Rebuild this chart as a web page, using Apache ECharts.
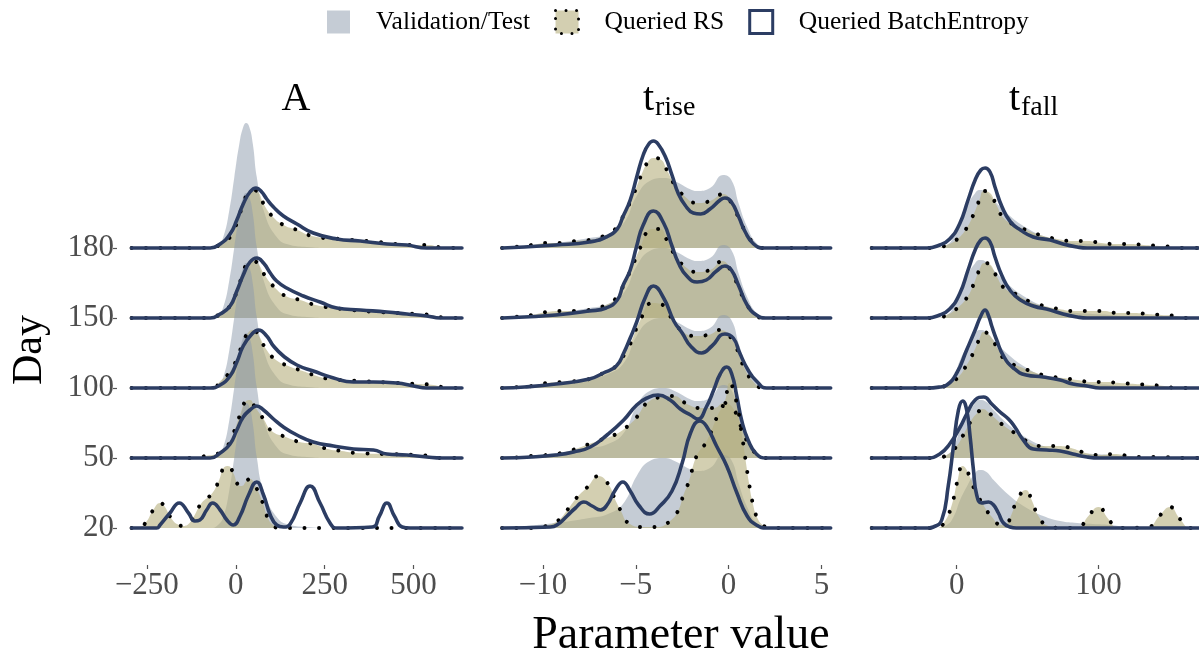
<!DOCTYPE html>
<html>
<head>
<meta charset="utf-8">
<script src="https://cdn.jsdelivr.net/npm/echarts@6/dist/echarts.min.js"></script>
<style>
  html, body { margin: 0; padding: 0; background: #fff; }
  #chart { width: 1199px; height: 660px; }
</style>
</head>
<body>
<div id="chart"></div>
<script>
// Days shown as ridges, bottom to top
const days = ['20', '50', '100', '150', '180'];
// vertical distance between two ridges, in scaled density units
const ridgeStep = 70;

// Tick labels of the three panels
const ticksA = [-250, 0, 250, 500];
const ticksRise = [-10, -5, 0, 5];
const ticksFall = [0, 100];

// ---- Panel A: [parameter value, scaled density] ----
const valA = [[-293,0],[-70,0],[-50,3],[-35,11],[-18,38],[-4,71],[10,104],[21,121],[29,125],[38,121],[48,104],[59,71],[78,38],[115,11],[153,3],[200,1],[260,0],[636,0]];

const rsA_20 = [[-293,0],[-270,1],[-252,6],[-232,18],[-213,25],[-201,22],[-180,9],[-160,3],[-147,2],[-130,5],[-117,12],[-96,25],[-68,34],[-49,46],[-32,61],[-22,62],[-7,55],[7,43],[17,42],[30,47],[40,49],[55,42],[76,25],[90,10],[105,3],[120,0],[636,0]];
const rsA_50 = [[-293,0],[-110,0],[-86,2],[-46,5],[-16,16],[-2,29],[12,43],[29,57],[40,58],[52,52],[78,39],[101,27],[141,21],[179,16],[218,14],[258,9],[298,7],[340,5],[420,4],[504,3],[547,2],[580,0],[636,0]];
const rsA_100 = [[-293,0],[-60,0],[-46,6],[-16,16],[3,29],[17,42],[34,55],[50,58],[62,54],[85,39],[113,28],[148,22],[188,17],[228,12],[265,9],[350,7],[450,5],[514,4],[556,3],[590,0.5],[636,0]];
const rsA_150 = [[-293,0],[-60,0],[-46,5],[-13,13],[3,27],[17,41],[31,54],[46,57],[61,55],[81,43],[108,31],[140,22],[181,18],[225,13],[298,9],[400,6],[505,4],[547,3],[585,0.5],[636,0]];
const rsA_180 = [[-293,0],[-60,0],[-46,4],[-13,12],[3,25],[16,39],[31,53],[45,58],[59,57],[80,43],[102,32],[134,23],[173,18],[214,12],[293,9],[400,6],[500,3],[542,3],[579,0.5],[636,0]];

const beA_20 = [[-293,0],[-222,0],[-213,3],[-185,15],[-159,25],[-133,15],[-115,7],[-101,8],[-82,18],[-65,25],[-44,18],[-25,8],[-7,3],[12,12],[36,33],[59,46],[78,33],[97,13],[115,3],[134,1],[153,4],[181,25],[209,42],[237,25],[265,5],[284,0],[384,1],[404,12],[425,25],[446,12],[468,1],[490,0],[636,0]];
const beA_50 = [[-293,0],[-72,0],[-44,5],[-16,14],[3,28],[21,41],[40,48],[59,52],[78,48],[106,39],[134,31],[172,23],[218,16],[275,12],[331,9],[387,8],[425,4],[481,3],[537,1],[580,0],[636,0]];
const beA_100 = [[-293,0],[-72,0],[-44,3],[-16,12],[3,26],[21,42],[43,53],[64,58],[87,52],[106,42],[134,32],[172,23],[218,17],[275,10],[331,6],[387,6],[453,5],[500,2],[537,0],[636,0]];
const beA_150 = [[-293,0],[-72,0],[-44,4],[-16,12],[3,27],[21,43],[40,56],[59,60],[78,55],[97,45],[115,37],[143,30],[190,22],[237,16],[284,10],[350,8],[425,6],[481,4],[537,2],[575,0],[636,0]];
const beA_180 = [[-293,0],[-72,0],[-44,4],[-16,14],[3,28],[21,44],[40,56],[57,60],[73,56],[87,49],[106,41],[134,32],[172,24],[218,15],[284,9],[350,7],[425,4],[481,3],[537,0],[636,0]];

// ---- Panel t_rise ----
const valRise = [[-12.2,0],[-11,2],[-9.3,5],[-7.5,10],[-6.5,14],[-5.65,25],[-4.95,52],[-4.25,67],[-3.5,70],[-2.8,66],[-2.1,59],[-1.7,57],[-1,60],[-0.3,73],[0.15,68],[0.55,44],[1,21],[1.5,5],[2,0],[5.5,0]];

const rsRise_20 = [[-12.2,0],[-10.3,0],[-9.7,3],[-9.15,8],[-8.65,19],[-8.15,31],[-7.6,41],[-7,52],[-6.45,43],[-6.15,30],[-5.8,17],[-5.4,5],[-4.6,1],[-3.85,1],[-3.15,7],[-2.7,18],[-2.45,32],[-2.15,46],[-1.7,73],[-1.2,86],[-0.6,112],[-0.2,127],[0.05,145],[0.4,128],[0.7,95],[0.9,70],[1.1,45],[1.3,25],[1.55,10],[1.9,2],[2.2,0],[5.5,0]];
const rsRise_50 = [[-12.2,0],[-11,1],[-10.6,2],[-9.8,3],[-9,5],[-8.25,9],[-7.5,14],[-6.9,18],[-6.05,24],[-5.3,34],[-4.9,42],[-4.4,55],[-3.6,61],[-2.95,62],[-2.25,54],[-1.5,50],[-0.8,50],[-0.25,55],[0.3,48],[0.8,25],[1.3,8],[1.9,0],[5.5,0]];
const rsRise_100 = [[-12.2,0],[-11.3,1],[-10.6,2],[-9.8,5],[-9,6],[-7.5,9],[-6.75,15],[-6.05,22],[-5.6,34],[-5.25,46],[-4.8,66],[-4.1,85],[-3.45,82],[-3.05,69],[-2.5,57],[-1.85,52],[-1.1,53],[-0.45,58],[0.2,48],[0.8,22],[1.3,7],[1.9,0],[5.5,0]];
const rsRise_150 = [[-12.2,0],[-11.5,1],[-10.6,3],[-9.8,6],[-9,7],[-8.2,7],[-7.5,8],[-6.6,13],[-6.05,20],[-5.65,33],[-5.3,47],[-5,60],[-4.7,73],[-4.4,86],[-4.05,89],[-3.7,89],[-3.3,77],[-2.9,63],[-2.45,53],[-1.7,46],[-1,48],[-0.35,57],[0.2,44],[0.8,20],[1.3,6],[1.9,0],[5.5,0]];
const rsRise_180 = [[-12.2,0],[-11.5,1],[-10.6,3],[-9.8,5],[-9,5],[-8.2,7],[-7.5,8],[-6.6,13],[-6.05,20],[-5.65,33],[-5.3,46],[-5,59],[-4.7,73],[-4.35,86],[-4.05,90],[-3.7,89],[-3.3,77],[-2.9,63],[-2.45,53],[-1.7,45],[-1,47],[-0.3,54],[0.25,41],[0.8,20],[1.3,6],[1.9,0],[5.5,0]];

const beRise_20 = [[-12.2,0],[-9.6,1],[-9.25,3],[-8.7,12],[-8.25,20],[-7.8,26],[-7.35,22],[-6.9,18],[-6.55,23],[-6.1,38],[-5.7,46],[-5.3,37],[-4.85,23],[-4.25,14],[-3.7,22],[-3.05,37],[-2.5,65],[-2.05,95],[-1.55,107],[-1.2,102],[-0.65,82],[-0.1,62],[0.45,35],[1,12],[1.5,3],[2.05,0],[5.5,0]];
const beRise_50 = [[-12.2,0],[-10.6,1],[-9.3,3],[-8.35,6],[-7.45,11],[-6.55,23],[-5.65,38],[-4.95,53],[-4.4,60],[-3.8,63],[-3.15,58],[-2.6,49],[-2.05,43],[-1.65,39],[-1.2,51],[-0.8,68],[-0.45,84],[-0.1,91],[0.17,84],[0.45,61],[0.7,38],[1.05,18],[1.5,4],[2.05,0],[5.5,0]];
const beRise_100 = [[-12.2,0],[-11,1],[-9.3,4],[-7.5,9],[-6.75,15],[-6.05,22],[-5.65,35],[-5.3,50],[-4.95,66],[-4.5,90],[-4.05,102],[-3.5,90],[-2.95,67],[-2.5,55],[-2.05,42],[-1.45,35],[-0.9,42],[-0.2,54],[0.25,50],[0.6,35],[1.05,18],[1.5,7],[2.05,0],[5.5,0]];
const beRise_150 = [[-12.2,0],[-11,1],[-9.3,3],[-7.5,7],[-6.6,10],[-6,18],[-5.7,32],[-5.3,48],[-4.95,72],[-4.6,93],[-4.05,107],[-3.5,95],[-3.05,72],[-2.7,55],[-2.25,42],[-1.7,36],[-1.2,38],[-0.65,47],[-0.2,52],[0.15,48],[0.55,32],[1,13],[1.5,3],[2,0],[5.5,0]];
const beRise_180 = [[-12.2,0],[-11,1],[-9.3,3],[-7.5,6],[-6.6,11],[-6,19],[-5.7,31],[-5.3,48],[-4.95,71],[-4.6,93],[-4.3,104],[-4.05,107],[-3.8,104],[-3.4,91],[-3.05,73],[-2.7,54],[-2.35,43],[-1.9,35],[-1.5,34],[-1,39],[-0.45,48],[-0.2,50],[0.15,46],[0.55,31],[0.9,16],[1.35,4],[1.9,0],[5.5,0]];

// ---- Panel t_fall ----
const valFall = [[-60,0],[-15,0],[-7,3],[-2.3,11],[2.4,28],[7,41],[12,53],[16.5,58],[21,56],[26,48],[37.6,32],[49.4,20],[61,12],[73,7],[85,5],[96,4],[108,3],[120,1],[135,0],[171,0]];

const rsFall_20 = [[-60,0],[-14,0],[-8.7,6],[-3.5,23],[0.5,47],[4.2,62],[9.4,51],[13,37],[18.8,23],[24.2,12],[31.8,3],[35,4],[38.8,14],[42.3,27],[48.7,38],[52.9,28],[57.6,12],[64.7,2],[75,0],[86,1],[92.9,12],[100,21],[107,9],[114,0],[135,1],[143,12],[150.5,21],[157.6,9],[164.7,0],[171,0]];
const rsFall_50 = [[-60,0],[-15,0],[-7,3],[0,12],[5,24],[10,37],[14.5,45],[18.5,49],[22,46],[26,41],[33.5,32],[42,24],[50.6,16],[60,12],[70.6,12],[80.7,10],[91,5],[101,3],[111,4],[121.6,2],[131.7,1],[145,1],[160,0],[171,0]];
const rsFall_100 = [[-60,0],[-15,0],[-7,3],[0.5,10],[7,23],[12,36],[16,49],[19,56],[23.5,52],[29,39],[35,27],[45,21],[54,16],[64,12],[75,10],[85,8],[95,6],[105,6],[115,5],[126,4],[136,3],[146.5,2],[155,0],[171,0]];
const rsFall_150 = [[-60,0],[-15,0],[-7,3],[0.5,10],[7.5,21],[12,34],[16,48],[19.5,55],[23,54],[28,42],[33.5,30],[43,23],[52,16],[62,12],[72,9],[83,7],[93,7],[103.5,7],[113.5,5],[124,5],[134.5,4],[144.5,3],[155,2],[163,0],[171,0]];
const rsFall_180 = [[-60,0],[-15,0],[-7,3],[0.5,9],[7,20],[12,34],[16,48],[19,57],[22.5,56],[28,43],[33,30],[41,23],[51,17],[61,12],[71,9],[81,7],[92,7],[102,5],[112,4],[122,4],[132,3],[143,2],[153,1],[160,0],[171,0]];

const beFall_20 = [[-60,0],[-20,0],[-16.5,1],[-10.6,8],[-6,42],[-2.3,82],[1.2,118],[4.2,127],[7,118],[9.4,92],[11.8,58],[14.1,33],[17.6,25],[22.4,26],[26,23],[29.4,15],[33,5],[37.6,1],[42,0],[171,0]];
const beFall_50 = [[-60,0],[-21,0],[-12,4],[-5,14],[2.4,31],[7,44],[13,58],[19,61],[24.7,54],[30.6,46],[36.5,39],[41,31],[47,18],[54,9],[63.5,8],[73,7],[82,4],[92,1],[101,0],[171,0]];
const beFall_100 = [[-60,0],[-21,0],[-12,1],[-7,3],[0,15],[7,38],[13,58],[17,72],[20,78],[22.5,72],[24.7,62],[28.2,48],[33,32],[40,20],[49,13],[61,11],[73,8],[82,4],[92,2],[101,0],[171,0]];
const beFall_150 = [[-60,0],[-21,0],[-12,3],[-5,9],[2,24],[8,48],[13,68],[17,78],[20,80],[23.5,76],[27,61],[32,42],[38,27],[45,18],[54,12],[66,8],[75,4],[85,1],[92,0],[171,0]];
const beFall_180 = [[-60,0],[-21,0],[-12,3],[-5,9],[2,24],[8,48],[13,68],[17,78],[20,80],[23.5,76],[27,61],[32,41],[38,26],[45,18],[54,11],[66,8],[75,4],[85,1],[92,0],[171,0]];

// ---- Layout & styles ----
const FONT = '"Liberation Serif", "Times New Roman", serif';
const greyFill = 'rgba(139,154,172,0.5)';
const tanFill = 'rgba(182,175,125,0.6)';
const navy = '#2c3d63';

const panels = [
  { left: 117, width: 362, min: -334, max: 684, ticks: ticksA, val: valA,
    rs: [rsA_20, rsA_50, rsA_100, rsA_150, rsA_180], be: [beA_20, beA_50, beA_100, beA_150, beA_180] },
  { left: 486, width: 361, min: -13.07, max: 6.38, ticks: ticksRise, val: valRise,
    rs: [rsRise_20, rsRise_50, rsRise_100, rsRise_150, rsRise_180], be: [beRise_20, beRise_50, beRise_100, beRise_150, beRise_180] },
  { left: 856, width: 343, min: -71.1, max: 171, ticks: ticksFall, val: valFall,
    rs: [rsFall_20, rsFall_50, rsFall_100, rsFall_150, rsFall_180], be: [beFall_20, beFall_50, beFall_100, beFall_150, beFall_180] }
];

const dayPos = days.map((d, i) => i * ridgeStep);
const yMin = -37, yMax = 418;

const chart = echarts.init(document.getElementById('chart'), null, { renderer: 'canvas' });

const grids = panels.map(p => ({ left: p.left, width: p.width, top: 110, height: yMax - yMin }));

// axis line kept "on" but invisible so ticks are drawn
const hiddenLine = { show: true, onZero: false, lineStyle: { opacity: 0 } };

const xAxes = panels.map((p, i) => ({
  type: 'value', gridIndex: i, min: p.min, max: p.max,
  axisLine: hiddenLine,
  splitLine: { show: false },
  axisTick: { show: true, customValues: p.ticks, length: 4, lineStyle: { color: '#555', width: 1.2 } },
  axisLabel: { customValues: p.ticks, fontFamily: FONT, fontSize: 31, color: '#4d4d4d', margin: 5,
    formatter: v => (v < 0 ? '\u2212' + Math.abs(v) : String(v)) }
}));

const yAxes = panels.map((p, i) => ({
  type: 'value', gridIndex: i, min: yMin, max: yMax,
  axisLine: Object.assign({}, hiddenLine, { show: i === 0 }),
  splitLine: { show: false },
  axisTick: { show: i === 0, customValues: dayPos, length: 4, lineStyle: { color: '#555', width: 1.2 } },
  axisLabel: { show: i === 0, customValues: dayPos, fontFamily: FONT, fontSize: 31, color: '#4d4d4d', margin: 3,
    formatter: v => days[Math.round(v / ridgeStep)] }
}));

const series = [];
panels.forEach((p, pi) => {
  // top ridge first so the lower ridges overlap it
  for (let d = days.length - 1; d >= 0; d--) {
    const base = dayPos[d];
    const lift = arr => arr.map(([x, h]) => [x, base + h]);
    const common = { type: 'line', xAxisIndex: pi, yAxisIndex: pi, showSymbol: false, symbol: 'none',
      smooth: 0.5, silent: true, animation: false };
    series.push(Object.assign({}, common, {
      name: 'Validation/Test', data: lift(p.val),
      itemStyle: { color: '#c5ccd5' },
      lineStyle: { width: 0, opacity: 0 },
      areaStyle: { color: greyFill, opacity: 1, origin: base }
    }));
    series.push(Object.assign({}, common, {
      name: 'Queried RS', data: lift(p.rs[d]),
      itemStyle: { color: '#d3cfb1' },
      lineStyle: { width: 4, color: '#000', type: [0.01, 14.5], cap: 'round' },
      areaStyle: { color: tanFill, opacity: 1, origin: base }
    }));
    series.push(Object.assign({}, common, {
      name: 'Queried BatchEntropy', data: lift(p.be[d]),
      itemStyle: { color: navy },
      lineStyle: { width: 3.6, color: navy, join: 'round', cap: 'round' }
    }));
  }
});

const option = {
  backgroundColor: '#fff',
  animation: false,
  legend: {
    top: 4, left: 322,
    itemWidth: 23, itemHeight: 23, itemGap: 24,
    selectedMode: false,
    textStyle: { fontFamily: FONT, fontSize: 25.5, color: '#000', padding: [0, 0, 0, 21] },
    data: [
      { name: 'Validation/Test', icon: 'rect', itemStyle: { color: '#c5ccd5', borderWidth: 0 } },
      { name: 'Queried RS', icon: 'rect', itemStyle: { color: '#d3cfb1', borderColor: '#000', borderWidth: 3, borderType: [0.01, 10.5], borderCap: 'round' } },
      { name: 'Queried BatchEntropy', icon: 'rect', itemStyle: { color: '#fff', borderColor: navy, borderWidth: 3 } }
    ]
  },
  grid: grids,
  xAxis: xAxes,
  yAxis: yAxes,
  series: series,
  graphic: [
    { type: 'text', x: 30, y: 350, rotation: Math.PI / 2, style: { text: 'Day', font: '42px ' + FONT, fill: '#000', align: 'center', verticalAlign: 'middle' } },
    { type: 'text', x: 296, y: 99, style: { text: 'A', font: '40px ' + FONT, fill: '#000', align: 'center', verticalAlign: 'middle' } },
    { type: 'text', x: 654, y: 99, style: { text: 't', font: '40px ' + FONT, fill: '#000', align: 'right', verticalAlign: 'middle' } },
    { type: 'text', x: 655, y: 108, style: { text: 'rise', font: '28px ' + FONT, fill: '#000', align: 'left', verticalAlign: 'middle' } },
    { type: 'text', x: 1020, y: 99, style: { text: 't', font: '40px ' + FONT, fill: '#000', align: 'right', verticalAlign: 'middle' } },
    { type: 'text', x: 1021, y: 108, style: { text: 'fall', font: '28px ' + FONT, fill: '#000', align: 'left', verticalAlign: 'middle' } },
    { type: 'text', x: 681, y: 636, style: { text: 'Parameter value', font: '46px ' + FONT, fill: '#000', align: 'center', verticalAlign: 'middle' } }
  ]
};

chart.setOption(option);
</script>
</body>
</html>
